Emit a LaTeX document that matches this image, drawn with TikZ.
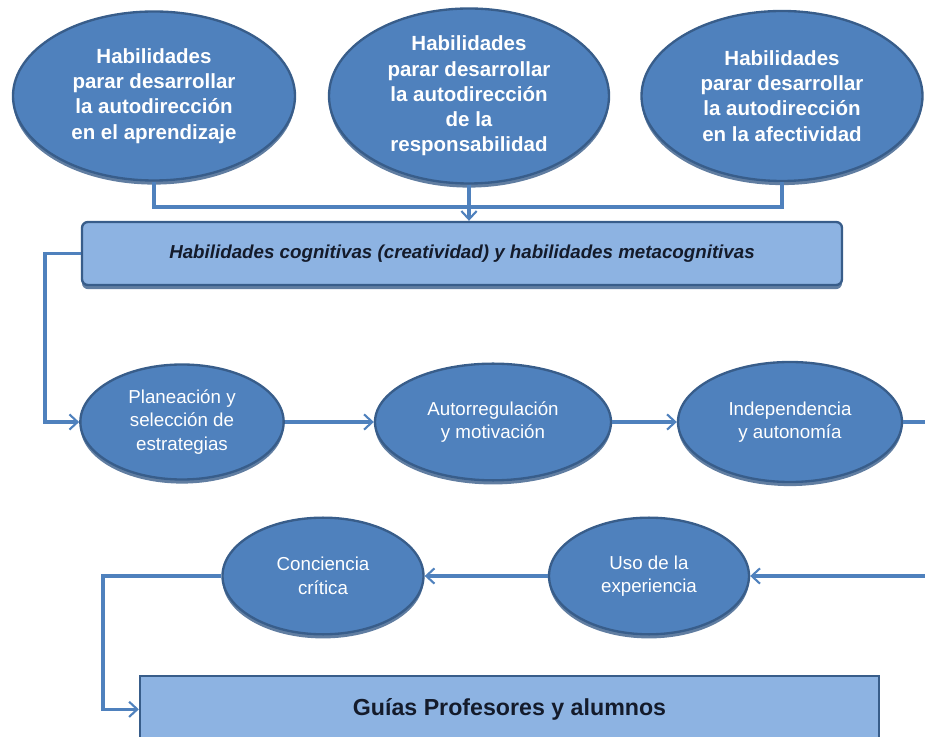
\documentclass[tikz,border=0pt]{standalone}
\usepackage{fontspec}
\setmainfont{Liberation Sans}
\usepackage{xcolor}
\usepackage{tikz}
\usetikzlibrary{positioning,arrows.meta,calc,shapes.geometric,shadows}
\definecolor{azul}{HTML}{4F81BD}
\definecolor{azulD}{HTML}{385D8A}
\definecolor{azulL}{HTML}{8DB3E2}
\definecolor{tinta}{HTML}{141B2B}
\tikzset{
  lin/.style={line width=2.6pt, color=azul},
  arr/.style={lin, -{Straight Barb[length=7pt,width=13pt,line width=1.8pt]}},
  sombra/.style={drop shadow={shadow xshift=0pt, shadow yshift=-3.5pt, opacity=0.8, fill=azulD}},
  habe/.style={ellipse, draw=azulD, line width=2pt, fill=azul, sombra, text=white,
               font=\fontsize{17.5}{21.5}\selectfont\bfseries, align=center, inner sep=0pt},
  fase/.style={ellipse, draw=azulD, line width=2pt, fill=azul, sombra, text=white,
               font=\fontsize{16}{20}\selectfont, align=center, inner sep=0pt},
  banda/.style={draw=azulD, line width=2pt, fill=azulL, sombra, text=tinta, align=center},
}
\begin{document}
\begin{tikzpicture}
  \clip (0,0) rectangle (27.75,22.08);

  % three top ellipses
  \node[habe, minimum width=8.46cm, minimum height=5.07cm] (habA) at (4.62,19.2)
    {Habilidades\\parar desarrollar\\la autodirección\\en el aprendizaje};
  \node[habe, minimum width=8.4cm, minimum height=5.25cm] (habB) at (14.07,19.2)
    {Habilidades\\parar desarrollar\\la autodirección\\de la\\responsabilidad};
  \node[habe, minimum width=8.43cm, minimum height=5.1cm] (habC) at (23.46,19.2)
    {Habilidades\\parar desarrollar\\la autodirección\\en la afectividad};

  % cognitive band
  \node[banda, rounded corners=5pt, minimum width=22.8cm, minimum height=1.89cm,
        font=\fontsize{16}{19}\selectfont\bfseries\itshape] (cogn) at (13.86,14.475)
    {Habilidades cognitivas (creatividad) y habilidades metacognitivas};

  \coordinate (junta) at (14.07,15.87);
  \draw[lin] (habA.south) |- (habC.south |- junta) -- (habC.south);
  \draw[arr] (habB.south) -- (habB.south |- cogn.north);

  % middle row
  \node[fase, minimum width=6.1cm, minimum height=3.45cm] (plan) at (5.46,9.42)
    {Planeación y\\selección de\\estrategias};
  \node[fase, minimum width=7.08cm, minimum height=3.5cm] (auto) at (14.79,9.42)
    {Autorregulación\\y motivación};
  \node[fase, minimum width=6.72cm, minimum height=3.6cm] (indep) at (23.7,9.42)
    {Independencia\\y autonomía};

  \coordinate (codoA) at (1.35,9.42);
  \coordinate (salida) at (27.75,9.42);
  \draw[arr] (cogn.west) -| (codoA) -- (plan.west);
  \draw[arr] (plan) -- (auto);
  \draw[arr] (auto) -- (indep);
  \draw[lin] (indep.east) -- (salida);

  % bottom row
  \node[fase, minimum width=6.03cm, minimum height=3.5cm] (conc) at (9.69,4.8)
    {Conciencia\\crítica};
  \node[fase, minimum width=6.0cm, minimum height=3.5cm] (uso) at (19.47,4.8)
    {Uso de la\\experiencia};

  \node[banda, minimum width=22.17cm, minimum height=2.0cm,
        font=\fontsize{19.8}{23}\selectfont\bfseries] (guia) at (15.285,0.8)
    {Guías Profesores y alumnos};

  \coordinate (entrada) at (27.75,4.8);
  \coordinate (codoB) at (3.09,0.8);
  \draw[arr] (entrada) -- (uso.east);
  \draw[arr] (uso) -- (conc);
  \draw[arr] (conc.west) -| (codoB) -- (guia.west);
\end{tikzpicture}
\end{document}
